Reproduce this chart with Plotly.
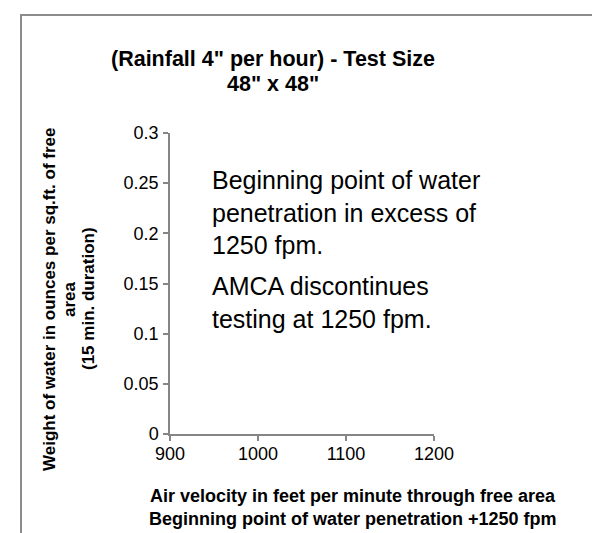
import plotly.graph_objects as go

# ---- data (chart has no plotted values) ----
air_velocity = []          # fpm
water_weight = []          # oz per sq.ft.
x_tick_values = [900, 1000, 1100, 1200]
y_tick_values = [0, 0.05, 0.1, 0.15, 0.2, 0.25, 0.3]
y_tick_labels = ["0", "0.05", "0.1", "0.15", "0.2", "0.25", "0.3"]

title_lines = ['(Rainfall 4" per hour) - Test Size', '48" x 48"']
y_title_lines = ["Weight of water in ounces per sq.ft. of free", "area", "(15 min. duration)"]
x_title_lines = ["Air velocity in feet per minute through free area",
                 "Beginning point of water penetration +1250 fpm"]
note_block_1 = "Beginning point of water<br>penetration in excess of<br>1250 fpm."
note_block_2 = "AMCA discontinues<br>testing at 1250 fpm."

W, H = 600, 533
L, R, T, B = 162, 174, 125, 107
PW, PH = W - L - R, H - T - B
FONT = "Liberation Sans, Arial, sans-serif"
AXIS_COLOR = "#868686"


def px(x):
    return (x - L) / PW


def py(y):
    return (H - B - y) / PH


fig = go.Figure()
fig.add_trace(go.Scatter(x=air_velocity, y=water_weight, mode="lines+markers",
                         showlegend=False))

annotations = []
# title
for txt, yc in zip(title_lines, [51, 76]):
    annotations.append(dict(text="<b>%s</b>" % txt, x=px(265), y=py(yc), xref="paper", yref="paper",
                            xanchor="center", yanchor="middle", showarrow=False,
                            font=dict(family=FONT, size=21.5, color="black")))
# y axis title (rotated)
for txt, xc in zip(y_title_lines, [41, 61, 80]):
    annotations.append(dict(text="<b>%s</b>" % txt, x=px(xc), y=py(291), xref="paper", yref="paper",
                            xanchor="center", yanchor="middle", textangle=-90, showarrow=False,
                            font=dict(family=FONT, size=17, color="black")))
# x axis title
for txt, yc in zip(x_title_lines, [488, 511]):
    annotations.append(dict(text="<b>%s</b>" % txt, x=px(345), y=py(yc), xref="paper", yref="paper",
                            xanchor="center", yanchor="middle", showarrow=False,
                            font=dict(family=FONT, size=18, color="black")))
# note text
annotations.append(dict(text=note_block_1, x=px(202), y=py(156), xref="paper", yref="paper",
                        xanchor="left", yanchor="top", align="left", showarrow=False,
                        font=dict(family=FONT, size=25, color="black")))
annotations.append(dict(text=note_block_2, x=px(202), y=py(262), xref="paper", yref="paper",
                        xanchor="left", yanchor="top", align="left", showarrow=False,
                        font=dict(family=FONT, size=25, color="black")))

fig.update_layout(
    width=W, height=H,
    margin=dict(l=L, r=R, t=T, b=B, autoexpand=False),
    paper_bgcolor="white", plot_bgcolor="white",
    font=dict(family=FONT, color="black"),
    annotations=annotations,
    shapes=[dict(type="rect", xref="paper", yref="paper",
                 x0=px(13), x1=px(597), y0=py(560), y1=py(7),
                 line=dict(color="#8c8c8c", width=2), fillcolor="rgba(0,0,0,0)", layer="below")],
)
fig.update_xaxes(range=[900, 1200], tickvals=x_tick_values, showgrid=False, zeroline=False,
                 showline=True, linecolor=AXIS_COLOR, linewidth=1.5,
                 ticks="outside", ticklen=5, tickcolor=AXIS_COLOR, tickwidth=1.5,
                 tickfont=dict(family=FONT, size=18, color="black"), ticklabelstandoff=-2)
fig.update_yaxes(range=[0, 0.3], tickvals=y_tick_values, ticktext=y_tick_labels,
                 showgrid=False, zeroline=False,
                 showline=True, linecolor=AXIS_COLOR, linewidth=1.5,
                 ticks="outside", ticklen=5, tickcolor=AXIS_COLOR, tickwidth=1.5,
                 tickfont=dict(family=FONT, size=18, color="black"), ticklabelstandoff=1)

fig.write_html("out.html")
